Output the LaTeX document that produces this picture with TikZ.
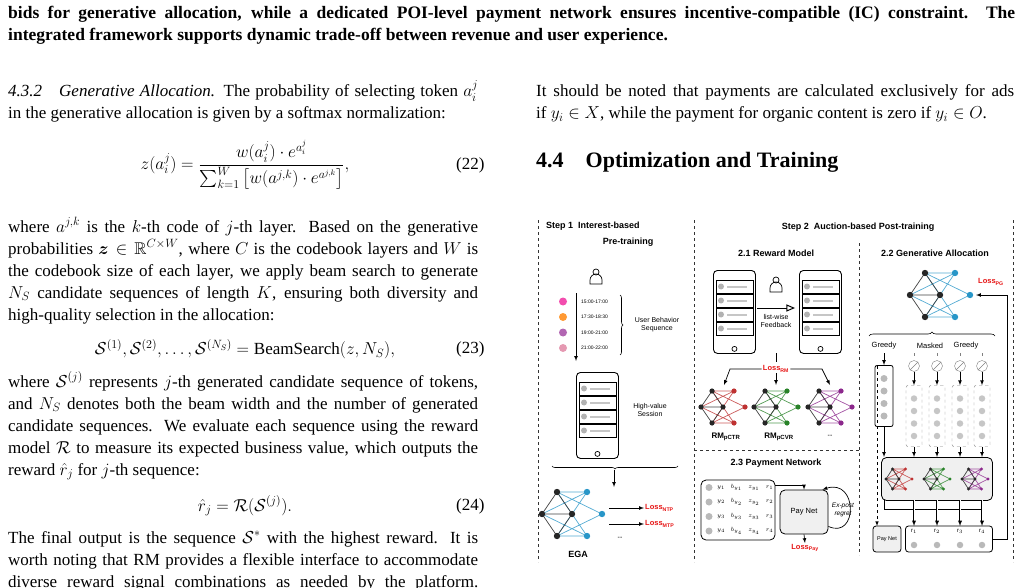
\documentclass[tikz,border=0pt]{standalone}
\usepackage{amsmath,amssymb}
\usepackage{fontspec}
\setmainfont{Liberation Serif}
\newfontfamily\figfont{Liberation Sans}
\usetikzlibrary{arrows,shapes,decorations.pathreplacing}
\definecolor{lossred}{RGB}{230,20,20}
\definecolor{egablue}{RGB}{40,150,200}
\definecolor{rmred}{RGB}{190,50,50}
\definecolor{rmgreen}{RGB}{40,130,40}
\definecolor{rmpurple}{RGB}{140,40,140}
\newcommand{\bodyfont}{\fontsize{17}{22}\selectfont}
\newcommand{\fline}[3]{\node[ln] (#1) at #2 {\makebox[470pt][s]{#3}};}
% small network: name, x, y, x-scale, y-scale, colour, radius
\newcommand{\gnet}[7]{%
  \begin{scope}[shift={(#2,#3)},x=#4pt,y=#5pt]
    \coordinate (#1a) at (-0.5,1); \coordinate (#1b) at (-1,0);
    \coordinate (#1c) at (-0.5,-1); \coordinate (#1d) at (0,0);
    \coordinate (#1e) at (0.5,1); \coordinate (#1f) at (1,0);
    \coordinate (#1g) at (0.5,-1);
    \draw[#6!80!white, line width=.7pt] (#1a)--(#1f) (#1a)--(#1g) (#1c)--(#1e)
      (#1c)--(#1f) (#1b)--(#1e) (#1b)--(#1g) (#1d)--(#1e) (#1d)--(#1g) (#1a)--(#1e) (#1c)--(#1g);
    \draw[black!75, line width=.7pt] (#1a)--(#1d)--(#1c) (#1a)--(#1b)--(#1c) (#1b)--(#1d);
    \foreach \k in {a,b,c,d} \fill[black!85] (#1\k) circle[radius=#7pt];
    \foreach \k in {e,f,g} \fill[#6] (#1\k) circle[radius=#7pt];
  \end{scope}}
% phone: name, x, y (top left), width, height
\newcommand{\phone}[5]{%
  \node[draw, rounded corners=4pt, line width=.9pt, minimum width=#4pt, minimum height=#5pt,
    anchor=north west, inner sep=0] (#1) at (#2,#3) {};
  \foreach \r in {0,1,2,3} {
    \draw[line width=.6pt] ([xshift=3pt,yshift=-10-\r*14pt]#1.north west) rectangle
      ([xshift=-3pt,yshift=-23-\r*14pt]#1.north east);
    \fill[gray!60] ([xshift=8pt,yshift=-16.5-\r*14pt]#1.north west) circle[radius=3pt];
    \fill[gray!45] ([xshift=14pt,yshift=-15.5-\r*14pt]#1.north west) rectangle
      ([xshift=-9pt,yshift=-17.5-\r*14pt]#1.north east);}
  \draw[line width=.7pt] ([yshift=5pt]#1.south) circle[radius=2.5pt];}
\newcommand{\person}[3]{%
  \node[circle, draw, line width=.7pt, minimum size=6pt, inner sep=0] (#1) at (#2,#3) {};
  \draw[line width=.7pt] ([xshift=-6pt,yshift=-12pt]#1.center) -- ++(0,4pt)
    arc[start angle=180,end angle=0,radius=6pt] -- ++(0,-4pt) -- cycle;}

\begin{document}
\begin{tikzpicture}[x=1pt,y=-1pt,>=latex]
  \tikzset{
    ln/.style={anchor=base west, inner sep=0, font=\bodyfont},
    captxt/.style={anchor=base west, inner sep=0, font=\fontsize{17.5}{22}\selectfont\bfseries},
    lab/.style={font=\figfont\fontsize{7}{8}\selectfont, align=center, inner sep=1pt},
    head/.style={font=\figfont\bfseries\fontsize{9}{11}\selectfont, align=center, inner sep=1pt},
    loss/.style={font=\figfont\bfseries\fontsize{7.5}{8}\selectfont, text=lossred, inner sep=1pt},
    sep/.style={dashed, line width=.6pt, black!80},
    arr/.style={->, line width=.7pt},
    dbox/.style={draw, dashed, gray, rounded corners=2pt},
    gbox/.style={draw, fill=gray!12, rounded corners=5pt, line width=.8pt},
    ico/.style={circle, fill=gray!55, minimum size=8pt, inner sep=0}
  }
  \useasboundingbox (0,0) rectangle (1022,588);

  % caption
  \node[captxt] (c1) at (8,19) {\makebox[1007pt][s]{bids for generative allocation, while a dedicated POI-level payment network ensures incentive-compatible (IC) constraint. The}};
  \node[captxt] (c2) at (8,41) {integrated framework supports dynamic trade-off between revenue and user experience.};

  % left column
  \fline{l1}{(8,97)}{\textit{4.3.2\quad Generative Allocation.} The probability of selecting token $a_i^j$}
  \node[ln] (l2) at (8,119) {in the generative allocation is given by a softmax normalization:};
  \node[font=\bodyfont] (e22) at (245,165) {$\displaystyle z(a_i^j)=\frac{w(a_i^j)\cdot e^{a_i^j}}{\sum_{k=1}^{W}\left[w(a^{j,k})\cdot e^{a^{j,k}}\right]},$};
  \node[font=\bodyfont, anchor=east] (n22) at (488,165) {(22)};
  \fline{l3}{(8,232)}{where $a^{j,k}$ is the $k$-th code of $j$-th layer. Based on the generative}
  \fline{l4}{(8,254)}{probabilities $\boldsymbol{z}\in\mathbb{R}^{C\times W}$, where $C$ is the codebook layers and $W$ is}
  \fline{l5}{(8,276)}{the codebook size of each layer, we apply beam search to generate}
  \fline{l6}{(8,298)}{$N_S$ candidate sequences of length $K$, ensuring both diversity and}
  \node[ln] (l7) at (8,320) {high-quality selection in the allocation:};
  \node[font=\bodyfont] (e23) at (245,349) {$\mathcal{S}^{(1)},\mathcal{S}^{(2)},\ldots,\mathcal{S}^{(N_S)}=\mathrm{BeamSearch}(z,N_S),$};
  \node[font=\bodyfont, anchor=east] (n23) at (488,349) {(23)};
  \fline{l8}{(8,387)}{where $\mathcal{S}^{(j)}$ represents $j$-th generated candidate sequence of tokens,}
  \fline{l9}{(8,409)}{and $N_S$ denotes both the beam width and the number of generated}
  \fline{l10}{(8,431)}{candidate sequences. We evaluate each sequence using the reward}
  \fline{l11}{(8,453)}{model $\mathcal{R}$ to measure its expected business value, which outputs the}
  \node[ln] (l12) at (8,475) {reward $\hat r_j$ for $j$-th sequence:};
  \node[font=\bodyfont] (e24) at (245,506) {$\hat r_j=\mathcal{R}(\mathcal{S}^{(j)}).$};
  \node[font=\bodyfont, anchor=east] (n24) at (488,506) {(24)};
  \fline{l13}{(8,543)}{The final output is the sequence $\mathcal{S}^{*}$ with the highest reward. It is}
  \fline{l14}{(8,565)}{worth noting that RM provides a flexible interface to accommodate}
  \fline{l15}{(8,587)}{diverse reward signal combinations as needed by the platform.}

  % right column
  \node[ln] (r1) at (536,97) {\makebox[478pt][s]{It should be noted that payments are calculated exclusively for ads}};
  \node[ln] (r2) at (536,119) {if $y_i\in X$, while the payment for organic content is zero if $y_i\in O$.};
  \node[anchor=base west, inner sep=0, font=\fontsize{22}{26}\selectfont\bfseries] (h44) at (536,168) {4.4\quad Optimization and Training};

  % figure frame
  \draw[sep] (538,220) -- (538,562);
  \draw[sep] (694,220) -- (694,562);
  \draw[sep] (1013,220) -- (1013,562);
  \draw[sep] (859,243) -- (859,555);
  \draw[sep] (694,450) -- (859,450);

  % step 1
  \node[head, anchor=west] (s1) at (545,226) {Step 1\ \ Interest-based};
  \node[head] (s1b) at (628,242) {Pre-training};
  \person{u1}{596}{272}
  \draw[arr] (576,293) -- (576,361);
  \foreach \c/\t [count=\i] in {magenta!70/15:00-17:00, orange!80/17:30-18:30, violet!60/19:00-21:00, purple!40/21:00-22:00} {
    \node[ico, fill=\c] (b\i) at (563,286+\i*15.5) {};
    \node[lab, font=\figfont\fontsize{5}{6}\selectfont, anchor=west] (t\i) at (580,286+\i*15.5) {\t};
  }
  \draw[decorate, decoration={brace, amplitude=3pt}, line width=.6pt] (620,295) -- (620,355);
  \node[lab] (ubs) at (657,325) {User Behavior\\Sequence};
  \phone{hv}{576}{372}{42}{86}
  \node[lab] (hvs) at (650,410) {High-value\\Session};
  \draw[decorate, decoration={brace, mirror, amplitude=3pt}, line width=.6pt] (552,466) -- (678,466);
  \draw[arr] (614,470) -- (614,487);
  \gnet{ega}{572}{514}{30}{22}{egablue}{3.2}
  \node[head] (egal) at (578,554) {EGA};
  \node[loss, anchor=west] (lntp) at (644,508) {Loss$_{\text{NTP}}$};
  \node[loss, anchor=west] (lmtp) at (644,524) {Loss$_{\text{MTP}}$};
  \draw[arr] (609,508) -- (lntp.west);
  \draw[arr] (609,524) -- (lmtp.west);
  \node[lab] (egad) at (620,538) {--};

  % step 2
  \node[head] (s2) at (858,227) {Step 2\ \ Auction-based Post-training};
  \node[head] (s21) at (776,253) {2.1 Reward Model};
  \node[head] (s22) at (935,253) {2.2 Generative Allocation};
  \phone{ph1}{713}{270}{42}{83}
  \phone{ph2}{799}{270}{42}{83}
  \person{u2}{776}{280}
  \draw[->, >=open triangle 45, line width=1pt] (757,308) -- (795,308);
  \node[lab] (lwf) at (776,321) {list-wise\\Feedback};
  \node[loss] (lrm) at (776,369) {Loss$_{\text{RM}}$};
  \draw[line width=.7pt] (776,353) -- (776,362);
  \draw[arr] (lrm.west) -- (730,369) -- (724,385);
  \draw[arr] (lrm.south) -- (776,385);
  \draw[arr] (lrm.east) -- (822,369) -- (830,385);
  \gnet{rma}{723}{407}{22}{16}{rmred}{2.6}
  \gnet{rmb}{776}{407}{22}{16}{rmgreen}{2.6}
  \gnet{rmc}{830}{407}{22}{16}{rmpurple}{2.6}
  \node[head, font=\figfont\bfseries\fontsize{8}{9}\selectfont] (rmpctr) at (726,437) {RM$_{\text{pCTR}}$};
  \node[head, font=\figfont\bfseries\fontsize{8}{9}\selectfont] (rmpcvr) at (779,437) {RM$_{\text{pCVR}}$};
  \node[lab] (rmd) at (830,436) {--};

  % 2.3 payment
  \node[head] (s23) at (776,463) {2.3 Payment Network};
  \node[draw, rounded corners=5pt, line width=.8pt, minimum width=74pt, minimum height=60pt] (tab) at (738,510) {};
  \foreach \i in {1,2,3,4} {
    \node[ico, minimum size=7pt] (pi\i) at (709,473+\i*14.5) {};
    \node[lab, font=\fontsize{6}{7}\selectfont, anchor=west] (py\i) at (716,473+\i*14.5) {$y_\i\quad b_{y_\i}\quad z_{y_\i}\quad r_\i$};
  }
  \node[gbox, minimum width=48pt, minimum height=44pt, font=\figfont\fontsize{7.5}{8}\selectfont] (pn) at (804,512) {Pay Net};
  \draw[arr] (775,485) -- (804,485) -- (pn.north);
  \node[loss] (lpay) at (805,548) {Loss$_{\text{Pay}}$};
  \draw[arr] (pn.south) -- (lpay.north);
  \draw[arr] ([yshift=8pt]pn.south east) .. controls (858,540) and (858,478) .. ([xshift=-6pt]pn.north east);
  \node[lab, font=\figfont\itshape\fontsize{6.5}{8}\selectfont] (epr) at (843,510) {Ex-post\\regret};

  % 2.2 generative allocation
  \gnet{gen}{940}{295}{30}{22}{egablue}{3.2}
  \node[loss] (lpg) at (991,282) {Loss$_{\text{PG}}$};
  \draw[decorate, decoration={brace, amplitude=4pt}, line width=.6pt] (869,336) -- (995,336);
  \node[lab, font=\figfont\fontsize{7.5}{8}\selectfont] (gr1) at (884,346) {Greedy};
  \node[lab, font=\figfont\fontsize{7.5}{8}\selectfont] (msk) at (930,346) {Masked};
  \node[lab, font=\figfont\fontsize{7.5}{8}\selectfont] (gr2) at (966,346) {Greedy};
  \node[draw, rounded corners=2pt, line width=.8pt, minimum width=18pt, minimum height=61pt] (gcol) at (884,396) {};
  \foreach \i in {1,2,3,4} \node[ico, minimum size=7pt] (gi\i) at (884,366+\i*12.5) {};
  \draw[arr] (884,353) -- (gcol.north);
  \foreach \x [count=\i] in {914,937,960,982} {
    \node[circle, draw, gray, minimum size=11pt, inner sep=0] (mi\i) at (\x,366) {};
    \draw[gray] (mi\i.north east) -- (mi\i.south west);
    \node[dbox, minimum width=16pt, minimum height=61pt] (mc\i) at (\x,416) {};
    \foreach \j in {1,2,3,4} \node[ico, minimum size=6.5pt, fill=gray!45] (mc\i\j) at (\x,386+\j*12.5) {};
    \draw[arr] (mi\i.south) -- (mc\i.north);
    \draw[arr] (mc\i.south) -- (\x,457);
    \draw[dashed, gray] (\x,353) -- (\x,358);
  }
  \node[gbox, minimum width=111pt, minimum height=43pt] (rmbox) at (937,479) {};
  \draw[arr] (gcol.south) -- (884,457);
  \gnet{sa}{899}{479}{13}{10}{rmred}{1.6}
  \gnet{sb}{937}{479}{13}{10}{rmgreen}{1.6}
  \gnet{sc}{975}{479}{13}{10}{rmpurple}{1.6}
  \node[gbox, rounded corners=3pt, minimum width=28pt, minimum height=26pt, font=\figfont\fontsize{5.5}{6}\selectfont] (pn2) at (887,539) {Pay Net};
  \node[draw, rounded corners=3pt, line width=.8pt, minimum width=87pt, minimum height=26pt] (rbox) at (949,539) {};
  \draw[->, dashed, line width=.6pt] (877,366) -- (877,526);
  \draw[line width=.7pt] (884,500) -- (884,509) -- (982,509);
  \foreach \x [count=\i] in {914,937,960,982} {
    \draw[->, double, line width=.6pt] (\x,500) -- (\x,526);
    \node[lab, font=\figfont\fontsize{6}{7}\selectfont] (rl\i) at (\x,531) {r$_{\i}$};
    \node[ico, minimum size=6.5pt] (ri\i) at (\x,545) {};
  }
  \draw[arr] (rbox.east) -- (1007,539) -- (1007,295) -- (976,295);
\end{tikzpicture}
\end{document}
